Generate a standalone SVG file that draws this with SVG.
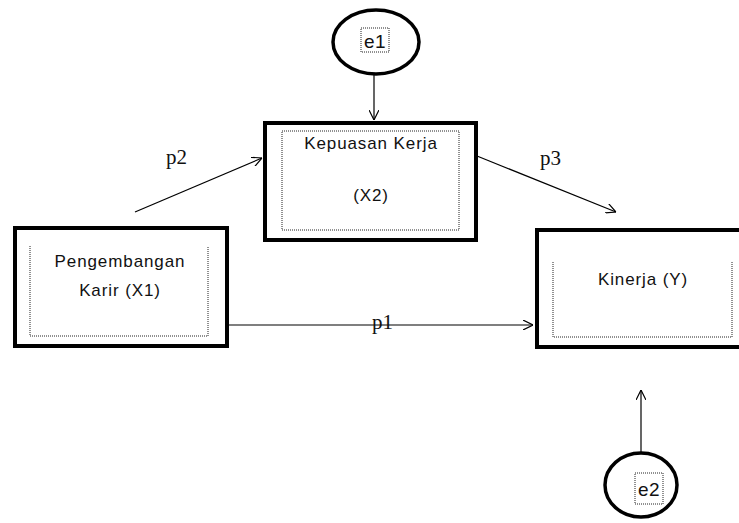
<svg xmlns="http://www.w3.org/2000/svg" width="739" height="523" viewBox="0 0 739 523">
<style>
.box{fill:#fff;stroke:#000;stroke-width:4}
.inner{fill:none;stroke:#222;stroke-width:1;stroke-dasharray:1 1}
.ell{fill:#fff;stroke:#000;stroke-width:3.5}
.t{font-family:"Liberation Sans",Arial,sans-serif;font-size:17px;letter-spacing:0.9px;fill:#111;text-anchor:middle}
.e{font-family:"Liberation Sans",Arial,sans-serif;font-size:19px;letter-spacing:0.5px;fill:#111;text-anchor:middle}
.lbl{font-family:"Liberation Serif","Times New Roman",serif;font-size:21px;fill:#111}
.con{stroke:#000;stroke-width:1.2;fill:none;marker-end:url(#arr)}
</style>
<defs>
<marker id="arr" viewBox="0 0 10 10" refX="10" refY="5" markerWidth="10" markerHeight="10" markerUnits="userSpaceOnUse" orient="auto">
<path d="M0,0 L10,5 L0,10" fill="none" stroke="#000" stroke-width="1.2"/>
</marker>
</defs>
<rect width="739" height="523" fill="#fff"/>
<g id="connectors">
<line class="con" x1="374" y1="75" x2="374" y2="120"/>
<line class="con" x1="135" y1="212" x2="262" y2="158"/>
<line class="con" x1="477" y1="156" x2="616" y2="212"/>
<line class="con" x1="229" y1="325" x2="533" y2="325"/>
<line class="con" x1="641" y1="452" x2="641" y2="390"/>
<text class="lbl" x="166" y="164">p2</text>
<text class="lbl" x="540" y="165">p3</text>
<text class="lbl" x="372" y="329">p1</text>
</g>
<g id="e1">
<ellipse class="ell" cx="376" cy="42" rx="43" ry="32"/>
<rect class="inner" x="361" y="28" width="28" height="24"/>
<text class="e" x="375" y="48">e1</text>
</g>
<g id="x2">
<rect class="box" x="265" y="123" width="211" height="117"/>
<rect class="inner" x="282" y="131" width="177" height="99"/>
<text class="t" x="371" y="149">Kepuasan Kerja</text>
<text class="t" x="371" y="201">(X2)</text>
</g>
<g id="x1">
<rect class="box" x="15" y="228" width="212" height="118"/>
<path class="inner" d="M30,246 V336 H208 V246"/>
<text class="t" x="120" y="267">Pengembangan</text>
<text class="t" x="120" y="296">Karir (X1)</text>
</g>
<g id="y">
<rect class="box" x="537" y="230" width="210" height="117"/>
<path class="inner" d="M553,262 V337 H732 V262"/>
<text class="t" x="643" y="285">Kinerja (Y)</text>
</g>
<g id="e2">
<ellipse class="ell" cx="641" cy="485" rx="36" ry="32"/>
<rect class="inner" x="635" y="473" width="28" height="31"/>
<text class="e" x="649" y="496">e2</text>
</g>
</svg>
